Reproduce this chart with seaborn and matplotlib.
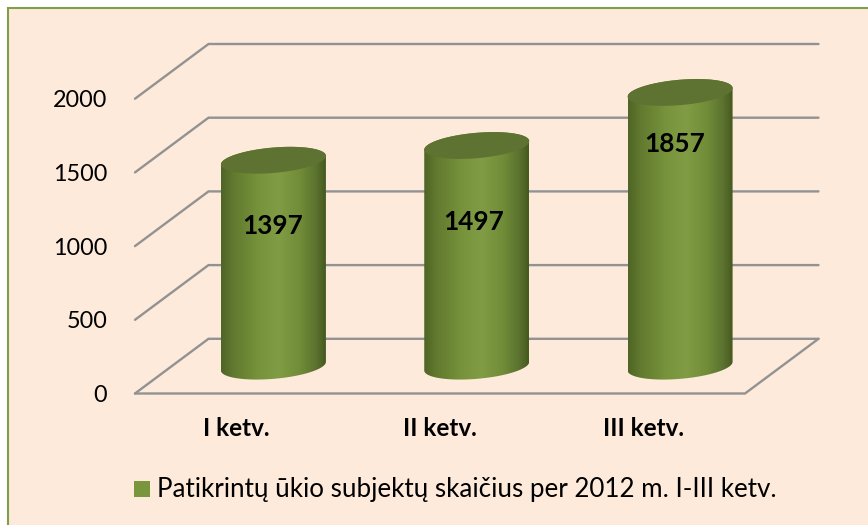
import matplotlib
matplotlib.use('Agg')
import matplotlib.pyplot as plt
import numpy as np
import pandas as pd
import seaborn as sns
from matplotlib.colors import LinearSegmentedColormap
from matplotlib.patches import PathPatch, Rectangle
from matplotlib.path import Path
from matplotlib.transforms import IdentityTransform

quarters = ['I ketv.', 'II ketv.', 'III ketv.']
counts = [1397, 1497, 1857]
y_ticks = [0, 500, 1000, 1500, 2000]
legend_label = 'Patikrintų ūkio subjektų skaičius per 2012 m. I-III ketv.'

# where the labels sit on the bars (value units, category units)
label_heights = [953, 977, 1506]
label_shifts = [-0.005, -0.015, -0.025]

BG = '#FDEADA'
GREEN = '#7A963C'
GRID = '#929292'

W, H = 868, 525
sns.set_theme(style='white')
plt.rcParams['font.family'] = ['Lato', 'DejaVu Sans']

fig = plt.figure(figsize=(W / 100, H / 100), dpi=100, facecolor='white')

# chart area and its border, white shows outside on the top and left
fig.patches.append(Rectangle((8 / W, 0), 1, 1 - 8 / H, transform=fig.transFigure,
                             facecolor=BG, edgecolor='none', zorder=-5))
fig.add_artist(plt.Line2D([8 / W, 8 / W, 1], [0, 1 - 8 / H, 1 - 8 / H], color='#7F9F4A', lw=1.5,
                          solid_joinstyle='miter'))

# front plane of the fake 3d box, in pixels
left, right, base, top = 135, 745, 393.5, 98.7
dx_px, dy_px = 73.5, 54.7


def axes_at(x0, x1, y0, y1):
    return fig.add_axes([x0 / W, 1 - y0 / H, (x1 - x0) / W, (y0 - y1) / H])


ax = axes_at(left, right, base, top)
ax.set_xlim(-0.5, 2.5)
ax.set_ylim(0, 2000)
ax.patch.set_visible(False)
sns.despine(ax=ax, left=True, bottom=True)
ax.set_xticks(range(3), quarters, fontsize=17.5, fontweight='bold', color='black')
ax.set_yticks(y_ticks, [str(v) for v in y_ticks], fontsize=16.8, color='black')
ax.tick_params(axis='x', length=0, pad=17)
ax.tick_params(axis='y', length=0, pad=20)

# walls and floor
dx = dx_px / (right - left) * 3
dy = dy_px / (base - top) * 2000
for v in y_ticks:
    ax.plot([-0.5, -0.5 + dx, 2.5 + dx], [v, v + dy, v + dy], color=GRID, lw=1.7,
            clip_on=False, zorder=1, solid_joinstyle='miter')
ax.plot([-0.5, 2.5, 2.5 + dx], [0, 0, dy], color=GRID, lw=1.7, clip_on=False, zorder=1,
        solid_joinstyle='miter')

# cylinders stand halfway into the box
mid = axes_at(left + dx_px / 2, right + dx_px / 2, base - dy_px / 2, top - dy_px / 2)
df = pd.DataFrame({'quarter': quarters, 'count': counts})
sns.barplot(data=df, x='quarter', y='count', order=quarters, width=0.516, ax=mid,
            facecolor='none', edgecolor='none')
mid.set_xlim(-0.5, 2.5)
mid.set_ylim(0, 2000)
mid.axis('off')

shade = LinearSegmentedColormap.from_list('cyl', [
    (0.0, '#4F6426'), (0.12, '#617A2F'), (0.35, '#76923A'), (0.55, '#809C44'),
    (0.75, '#728D38'), (0.9, '#5C7430'), (1.0, '#46591F')])
t = np.linspace(0, 2 * np.pi, 121)


def rim(cx, cy, angle, a=52.5, b=12.7, k=4.3):
    # sheared ellipse: left end sits lower than the right end
    return cx + a * np.cos(angle), cy + b * np.sin(angle) + k * np.cos(angle)


for i, bar in enumerate(mid.patches):
    x0, x1 = bar.get_x(), bar.get_x() + bar.get_width()
    v = bar.get_height()
    (px0, py0), (px1, py1) = mid.transData.transform([(x0, 0), (x1, v)])
    cx = (px0 + px1) / 2
    # silhouette: lower arc of the base, then the lid rim
    xb, yb = rim(cx, py0, t[60:121])
    xt, yt = rim(cx, py1, t[0:61])
    outline = PathPatch(Path(np.c_[np.r_[xb, xt], np.r_[yb, yt]], closed=False),
                        transform=IdentityTransform())
    im = mid.imshow(np.linspace(0, 1, 256)[None, :], cmap=shade, aspect='auto',
                    extent=[x0, x1, -200, v + 200], zorder=2, interpolation='bilinear')
    im.set_clip_path(outline)
    im.set_clip_box(fig.bbox)
    xl, yl = rim(cx, py1, t)
    mid.fill(xl, yl, color='#5E7231', transform=IdentityTransform(), clip_on=False, zorder=3, lw=0)
    mid.text(i + label_shifts[i], label_heights[i], str(counts[i]), ha='center', va='center',
             fontsize=18.8, fontweight='bold', color='black', zorder=4)
mid.set_xlim(-0.5, 2.5)
mid.set_ylim(0, 2000)

# legend
fig.patches.append(Rectangle((134 / W, 1 - 497 / H), 16 / W, 16 / H, transform=fig.transFigure,
                             facecolor=GREEN, edgecolor='none'))
fig.text(157 / W, 1 - 490 / H, legend_label, fontsize=18.7, color='black', va='center', ha='left')

fig.savefig('out.png', dpi=100, facecolor='white')
